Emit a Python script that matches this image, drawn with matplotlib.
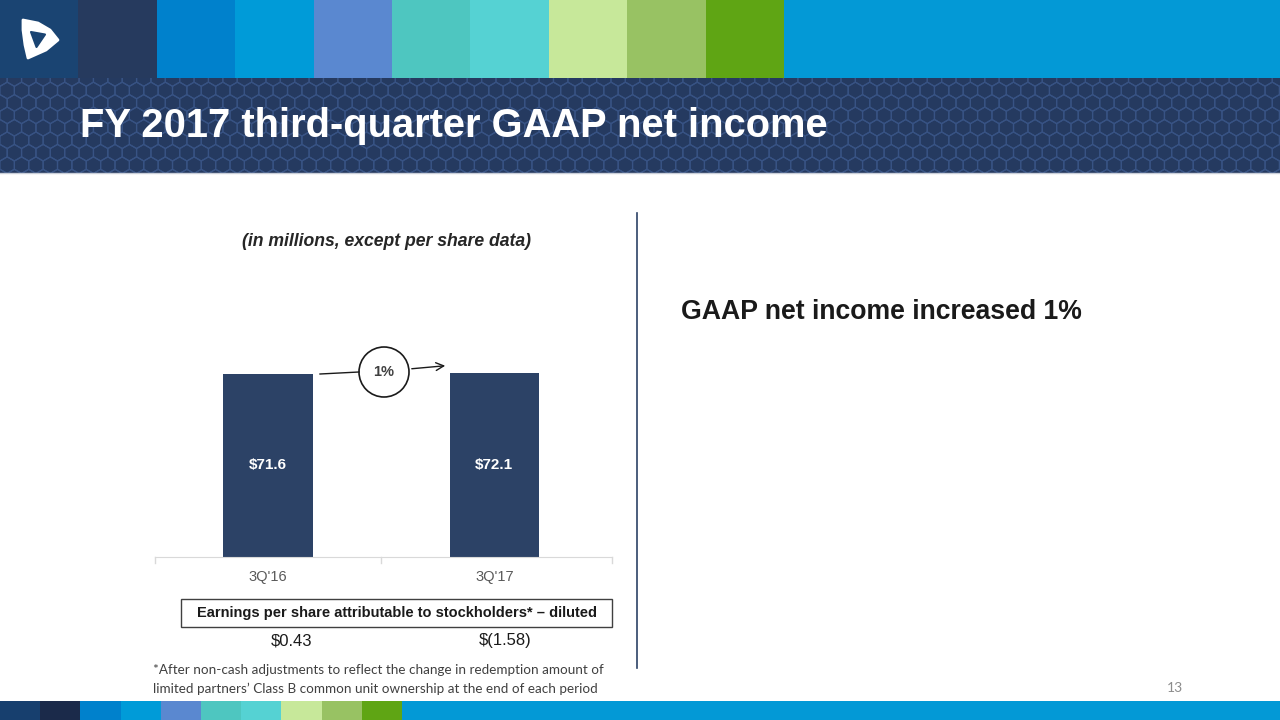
"""Slide: FY 2017 third-quarter GAAP net income (bar chart with EPS box)."""
import matplotlib.pyplot as plt
import numpy as np
from matplotlib.collections import PolyCollection
from matplotlib.patches import Rectangle, Circle, Polygon

plt.rcParams["font.family"] = ["Liberation Sans", "DejaVu Sans"]

W, H = 1280, 720

# data
quarters = ["3Q'16", "3Q'17"]
net_income = [71.6, 72.1]
bar_labels = ["$71.6", "$72.1"]
eps = ["$0.43", "$(1.58)"]
growth = "1%"

top_colors = ["#1a4472", "#263a5e", "#0081cc", "#009bd8", "#5a88d0",
              "#4ec6c0", "#55d2d3", "#c7e89a", "#98c263", "#5fa514"]
strip_blue = "#0399d6"
navy = "#253a60"
bar_color = "#2c4266"

fig = plt.figure(figsize=(W / 100, H / 100), dpi=100)
bg = fig.add_axes([0, 0, 1, 1])
bg.set_xlim(0, W)
bg.set_ylim(H, 0)
bg.axis("off")

# top colour strip
bg.add_patch(Rectangle((0, 0), W, 78, color=strip_blue, lw=0))
for i, c in enumerate(top_colors):
    bg.add_patch(Rectangle((i * 78.4, 0), 78.4, 78, color=c, lw=0))

# logo: rounded white triangle with dark inner triangle
bg.add_patch(Polygon([[23, 20], [38, 23], [50, 30], [58, 40], [46, 50], [28, 58],
                      [25, 45], [23, 30]],
                     closed=True, facecolor="white", edgecolor="white", lw=2,
                     joinstyle="round"))
bg.add_patch(Polygon([[31, 32], [45, 34.5], [36.5, 47]], closed=True,
                     facecolor="#1a4472", edgecolor="#1a4472", lw=1.5, joinstyle="round"))

# title banner with honeycomb texture
banner = Rectangle((0, 78), W, 95, color=navy, lw=0)
bg.add_patch(banner)
r = 8.3
hexes = []
dx = r * np.sqrt(3)
for row in range(10):
    cy = 78 + row * 1.5 * r
    off = dx / 2 if row % 2 else 0
    for col in range(int(W / dx) + 2):
        cx = col * dx + off
        ang = np.deg2rad(np.arange(6) * 60 + 30)
        hexes.append(np.column_stack([cx + r * np.cos(ang), cy + r * np.sin(ang)]))
pc = PolyCollection(hexes, facecolor="none", edgecolor="#385384", linewidth=0.9)
bg.add_collection(pc)
pc.set_clip_path(banner)
bg.plot([0, W], [173, 173], color="#c9ced8", lw=1)

bg.text(80, 126, "FY 2017 third-quarter GAAP net income", color="white",
        fontsize=28.7, fontweight="bold", va="center", ha="left")

# bottom colour strip
bg.add_patch(Rectangle((0, 701), W, 19, color=strip_blue, lw=0))
bottom_colors = ["#173f6e", "#1b2a4a"] + top_colors[2:]
for i, c in enumerate(bottom_colors):
    bg.add_patch(Rectangle((i * 40.2, 701), 40.2, 19, color=c, lw=0))

# subtitle
bg.text(386, 241, "(in millions, except per share data)", ha="center", va="center",
        fontsize=12.7, fontweight="bold", fontstyle="italic", color="#262626")

# divider
bg.plot([637, 637], [213, 668], color="#2c4266", lw=1.2)

# right-hand comment
bg.text(681, 312, "GAAP net income increased 1%", ha="left", va="center",
        fontsize=19.2, fontweight="bold", color="#1a1a1a")

# chart axes in pixel placement
ax_l, ax_r, ax_b, ax_t = 155, 612, 557, 340
ax = fig.add_axes([ax_l / W, 1 - ax_b / H, (ax_r - ax_l) / W, (ax_b - ax_t) / H])
x = np.arange(len(quarters))
ax.bar(x, net_income, width=0.395, color=bar_color)
ax.set_xlim(-0.5, 1.52)
ax.set_ylim(0, 71.6 * 217 / 183)
for xi, lab, v in zip(x, bar_labels, net_income):
    ax.text(xi, v * 0.5, lab, ha="center", va="center", color="white",
            fontsize=11, fontweight="bold")
ax.set_xticks(x)
ax.set_xticklabels(quarters, fontsize=10.5, color="#595959")
ax.tick_params(axis="x", length=0, pad=9.5)
ax.set_yticks([])
for s in ["top", "left", "right"]:
    ax.spines[s].set_visible(False)
ax.spines["bottom"].set_color("#d9d9d9")
for xt in [-0.5, 0.5, 1.52]:
    ax.plot([xt, xt], [0, -2.5], color="#d9d9d9", lw=1, clip_on=False)
ax.patch.set_alpha(0)

# growth bubble and arrow
bg.add_patch(Circle((384, 372), 25, facecolor="white", edgecolor="#1a1a1a", lw=1.2))
bg.text(384, 372, growth, ha="center", va="center", fontsize=10.5, color="#404040",
        fontweight="bold")
bg.plot([320, 359], [374, 372], color="#1a1a1a", lw=1)
bg.annotate("", xy=(448, 365.5), xytext=(409, 369),
            arrowprops=dict(arrowstyle="->", color="#1a1a1a", lw=1,
                            mutation_scale=14))

# EPS box
bg.add_patch(Rectangle((181, 599), 431, 28, facecolor="white",
                       edgecolor="#404040", lw=1))
bg.text(397, 613.5, "Earnings per share attributable to stockholders* \u2013 diluted",
        ha="center", va="center", fontsize=10.5, fontweight="bold", color="#1a1a1a")
for xp, e in zip([292, 505], eps):
    bg.text(xp, 641, e, ha="center", va="center", fontsize=12, color="#1a1a1a")

# footnote and page number
bg.text(153, 670, "*After non-cash adjustments to reflect the change in redemption amount of",
        ha="left", va="center", fontsize=9.75, color="#404040", family=["Lato", "DejaVu Sans"])
bg.text(153, 689, "limited partners\u2019 Class B common unit ownership at the end of each period",
        ha="left", va="center", fontsize=9.75, color="#404040", family=["Lato", "DejaVu Sans"])
bg.text(1175, 688, "13", ha="center", va="center", fontsize=10, color="#8c8c8c",
        family=["Lato", "DejaVu Sans"])

fig.savefig("out.png", dpi=100)
plt.close(fig)
